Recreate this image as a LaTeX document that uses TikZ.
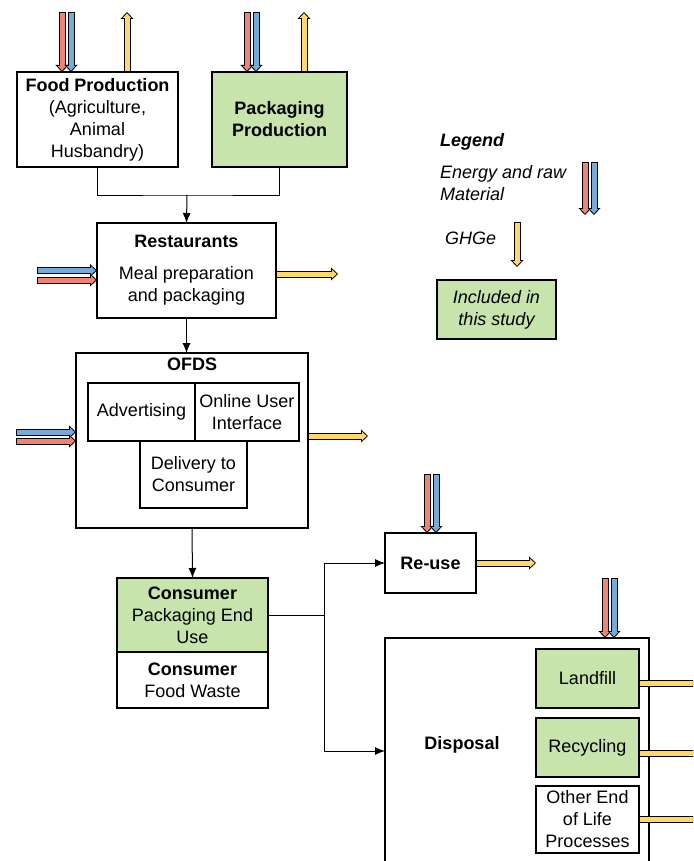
\documentclass[tikz,border=0pt]{standalone}
\usepackage{fontspec}
\setmainfont{Liberation Sans}
\usetikzlibrary{arrows.meta,positioning}
\definecolor{egreen}{RGB}{198,228,171}
\definecolor{ered}{RGB}{243,130,115}
\definecolor{eblue}{RGB}{117,170,222}
\definecolor{eyel}{RGB}{255,216,102}
\tikzset{
	box/.style ={draw, line width=1.2pt, align=center, inner sep=0pt, outer sep=0pt, font=\fontsize{18}{22}\selectfont},
	gbox/.style ={box, fill=egreen},
	txt/.style ={inner sep=0pt, align=left, font=\fontsize{18}{22}\selectfont},
	link/.style ={-{Latex[length=10pt,width=8pt]}, line width=1pt},
	flow/.style ={draw=black, line width=7pt, -{Triangle[width=13pt,length=7pt,line width=0.8pt,fill=#1]},
		postaction={draw=#1, line width=5pt, arrows=-, shorten >=6pt, shorten <=1pt}}
}
\begin{document}
\begin{tikzpicture}[x=1pt,y=-1pt]
    \clip (0,0) rectangle (693,861);

    % production and restaurants
    \node[box, minimum width=161pt, minimum height=95pt] (food) at (97.5,119.5) {\textbf{Food Production}\\(Agriculture,\\Animal\\Husbandry)};
    \node[gbox, minimum width=135pt, minimum height=95pt] (pack) at (279.5,119.5) {\textbf{Packaging}\\\textbf{Production}};
    \node[box, minimum width=179pt, minimum height=95pt] (rest) at (186.5,270.5) {\textbf{Restaurants}\\[10pt]Meal preparation\\and packaging};

    % OFDS
    \node[box, minimum width=232pt, minimum height=175pt] (ofds) at (192,440.5) {};
    \node[txt, below=5pt of ofds.north] (ofdsl) {\textbf{OFDS}};
    \node[box, minimum width=107pt, minimum height=58pt] (adv) at (141.5,412) {Advertising};
    \node[box, minimum width=104pt, minimum height=58pt, right=0pt of adv] (ui) {Online User\\Interface};
    \node[box, minimum width=107pt, minimum height=67pt, anchor=north, xshift=-1.5pt] (deliv) at (adv.south east) {Delivery to\\Consumer};

    % consumer and end of life
    \node[gbox, minimum width=151pt, minimum height=74pt] (cpack) at (192.5,615) {\textbf{Consumer}\\Packaging End\\Use};
    \node[box, minimum width=151pt, minimum height=56pt, below=0pt of cpack] (cfood) {\textbf{Consumer}\\Food Waste};
    \node[box, minimum width=91pt, minimum height=60pt] (reuse) at (430.5,563) {\textbf{Re-use}};
    \node[box, minimum width=264pt, minimum height=226pt] (disp) at (517,751) {};
    \node[txt] (displ) at (462,745) {\textbf{Disposal}};
    \node[gbox, minimum width=103pt, minimum height=59pt] (land) at (587.5,678.5) {Landfill};
    \node[gbox, minimum width=103pt, minimum height=59pt] (recy) at (587.5,747.5) {Recycling};
    \node[box, minimum width=103pt, minimum height=67pt] (other) at (587.5,819.5) {Other End\\of Life\\Processes};

    % legend
    \node[txt, anchor=west, font=\fontsize{18}{22}\selectfont\bfseries\itshape] (leg) at (440,142) {Legend};
    \node[txt, anchor=west, font=\fontsize{18}{22}\selectfont\itshape] (legem) at (440,183) {Energy and raw\\Material};
    \node[txt, anchor=west, font=\fontsize{18}{22}\selectfont\itshape] (leggh) at (445,238) {GHGe};
    \node[gbox, minimum width=119pt, minimum height=59pt, font=\fontsize{18}{22}\selectfont\itshape] (incl) at (496.5,309.5) {Included in\\this study};
    \coordinate (lg1) at (589.5,162);
    \coordinate (lg2) at (517,222);

    % links
    \coordinate (j1) at (187,195);
    \coordinate (j2) at (324,615);
    \draw[line width=1pt] (food.south) |- (j1) -| (pack.south);
    \draw[link] (j1) -- (rest.north);
    \draw[link] (rest.south) -- (rest.south |- ofds.north);
    \draw[link] (ofds.south) -- (cpack.north);
    \draw[line width=1pt] (cpack.east) -- (j2);
    \draw[link] (j2) |- (reuse.west);
    \draw[link] (j2) |- (disp.west);

    % flows
    \draw[flow=ered] ([xshift=-35.5pt,yshift=60pt]food.north) -- ([xshift=-35.5pt]food.north);
    \draw[flow=eblue] ([xshift=-26.5pt,yshift=60pt]food.north) -- ([xshift=-26.5pt]food.north);
    \draw[flow=eyel] ([xshift=29.5pt]food.north) -- ([xshift=29.5pt,yshift=60pt]food.north);
    \draw[flow=ered] ([xshift=-32.5pt,yshift=60pt]pack.north) -- ([xshift=-32.5pt]pack.north);
    \draw[flow=eblue] ([xshift=-23.5pt,yshift=60pt]pack.north) -- ([xshift=-23.5pt]pack.north);
    \draw[flow=eyel] ([xshift=24.5pt]pack.north) -- ([xshift=24.5pt,yshift=60pt]pack.north);

    \draw[flow=eblue] ([xshift=-60pt,yshift=0pt]rest.west) -- ([yshift=0pt]rest.west);
    \draw[flow=ered] ([xshift=-60pt,yshift=-9.5pt]rest.west) -- ([yshift=-9.5pt]rest.west);
    \draw[flow=eyel] ([yshift=-3.5pt]rest.east) -- ([xshift=62pt,yshift=-3.5pt]rest.east);

    \draw[flow=eblue] ([xshift=-60pt,yshift=8.5pt]ofds.west) -- ([yshift=8.5pt]ofds.west);
    \draw[flow=ered] ([xshift=-60pt,yshift=-0.5pt]ofds.west) -- ([yshift=-0.5pt]ofds.west);
    \draw[flow=eyel] ([yshift=4.5pt]ofds.east) -- ([xshift=60pt,yshift=4.5pt]ofds.east);

    \draw[flow=ered] ([xshift=-3.5pt,yshift=59pt]reuse.north) -- ([xshift=-3.5pt]reuse.north);
    \draw[flow=eblue] ([xshift=5.5pt,yshift=59pt]reuse.north) -- ([xshift=5.5pt]reuse.north);
    \draw[flow=eyel] (reuse.east) -- ([xshift=60pt]reuse.east);

    \draw[flow=ered] ([xshift=88pt,yshift=60pt]disp.north) -- ([xshift=88pt]disp.north);
    \draw[flow=eblue] ([xshift=97pt,yshift=60pt]disp.north) -- ([xshift=97pt]disp.north);
    \draw[flow=eyel] ([yshift=-4.5pt]land.east) -- ([xshift=80pt,yshift=-4.5pt]land.east);
    \draw[flow=eyel] ([yshift=-5.5pt]recy.east) -- ([xshift=80pt,yshift=-5.5pt]recy.east);
    \draw[flow=eyel] (other.east) -- ([xshift=80pt]other.east);

    \draw[flow=ered] ([xshift=-4.5pt]lg1) -- ([xshift=-4.5pt,yshift=-53pt]lg1);
    \draw[flow=eblue] ([xshift=4.5pt]lg1) -- ([xshift=4.5pt,yshift=-53pt]lg1);
    \draw[flow=eyel] (lg2) -- ([yshift=-45pt]lg2);
\end{tikzpicture}
\end{document}
